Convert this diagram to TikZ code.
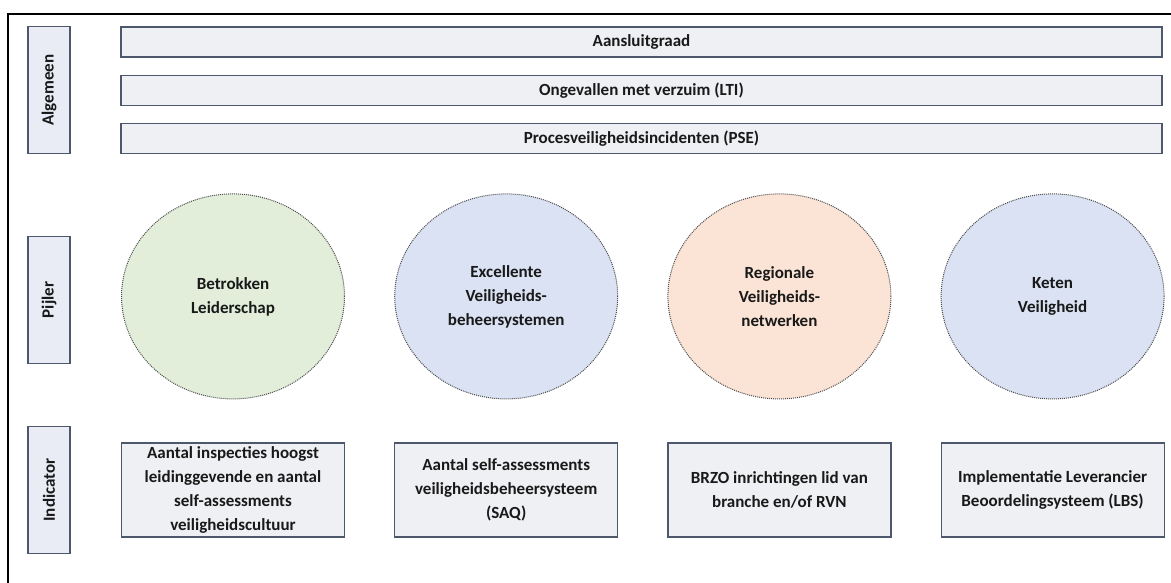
\documentclass[tikz,border=0pt]{standalone}
\usepackage{fontspec}
\setmainfont{Carlito}
\usepackage{xcolor}
\usepackage{tikz}
\usetikzlibrary{positioning}
\usetikzlibrary{shapes.geometric}

\definecolor{randkleur}{RGB}{78,88,108}
\definecolor{vulgrijs}{RGB}{239,240,243}
\definecolor{vullabel}{RGB}{233,236,244}
\definecolor{groen}{RGB}{226,238,218}
\definecolor{blauw}{RGB}{218,226,243}
\definecolor{oranje}{RGB}{251,228,214}

\begin{document}
\begin{tikzpicture}
    [x=1pt, y=-1pt,
      font=\fontsize{17}{24}\selectfont\bfseries, text=black!90,
      % Stijl voor de labels links
      lbl/.style={rectangle, rotate=90, fill=vullabel, draw=randkleur, line width=1.2pt, minimum width=127pt, minimum height=42pt, inner sep=0pt},
      % Stijl voor de algemene balken
      bar/.style={rectangle, fill=vulgrijs, draw=randkleur, line width=1.2pt, minimum width=1041pt, minimum height=30pt, inner sep=0pt},
      % Stijl voor de pijlers
      pil/.style={ellipse, draw=black!70, densely dotted, line width=1pt, minimum width=223pt, minimum height=205pt, align=center, inner sep=0pt},
      % Stijl voor de indicatoren
      ind/.style={rectangle, fill=vulgrijs, draw=randkleur, line width=1.2pt, minimum width=223pt, minimum height=94pt, align=center, inner sep=0pt},
      node distance=17pt]
    \useasboundingbox (0,0) rectangle (1171,583);
    % Kader
    \draw[line width=1.2pt] (8,583) -- (8,14) -- (1171,14);

    % Labels
    \node[lbl] (algemeen) at (49,90) {Algemeen};
    \node[lbl] (pijler) at (49,300) {Pijler};
    \node[lbl] (indicator) at (49,490) {Indicator};

    % Algemeen
    \node[bar] (aansl) at (641.5,42) {Aansluitgraad};
    \node[bar, below=of aansl] (lti) {Ongevallen met verzuim (LTI)};
    \node[bar, below=of lti] (pse) {Procesveiligheidsincidenten (PSE)};

    % Indicatoren
    \node[ind] (ind1) at (233,490) {Aantal inspecties hoogst\\leidinggevende en aantal\\self-assessments\\veiligheidscultuur};
    \node[ind, right=49pt of ind1] (ind2) {Aantal self-assessments\\veiligheidsbeheersysteem\\(SAQ)};
    \node[ind, right=49pt of ind2] (ind3) {BRZO inrichtingen lid van\\branche en/of RVN};
    \node[ind, right=49pt of ind3] (ind4) {Implementatie Leverancier\\Beoordelingsysteem (LBS)};

    % Pijlers
    \node[pil, fill=groen, above=43pt of ind1] (pil1) {Betrokken\\Leiderschap};
    \node[pil, fill=blauw, above=43pt of ind2] (pil2) {Excellente\\Veiligheids-\\beheersystemen};
    \node[pil, fill=oranje, above=43pt of ind3] (pil3) {Regionale\\Veiligheids-\\netwerken};
    \node[pil, fill=blauw, above=43pt of ind4] (pil4) {Keten\\Veiligheid};
  \end{tikzpicture}
\end{document}
